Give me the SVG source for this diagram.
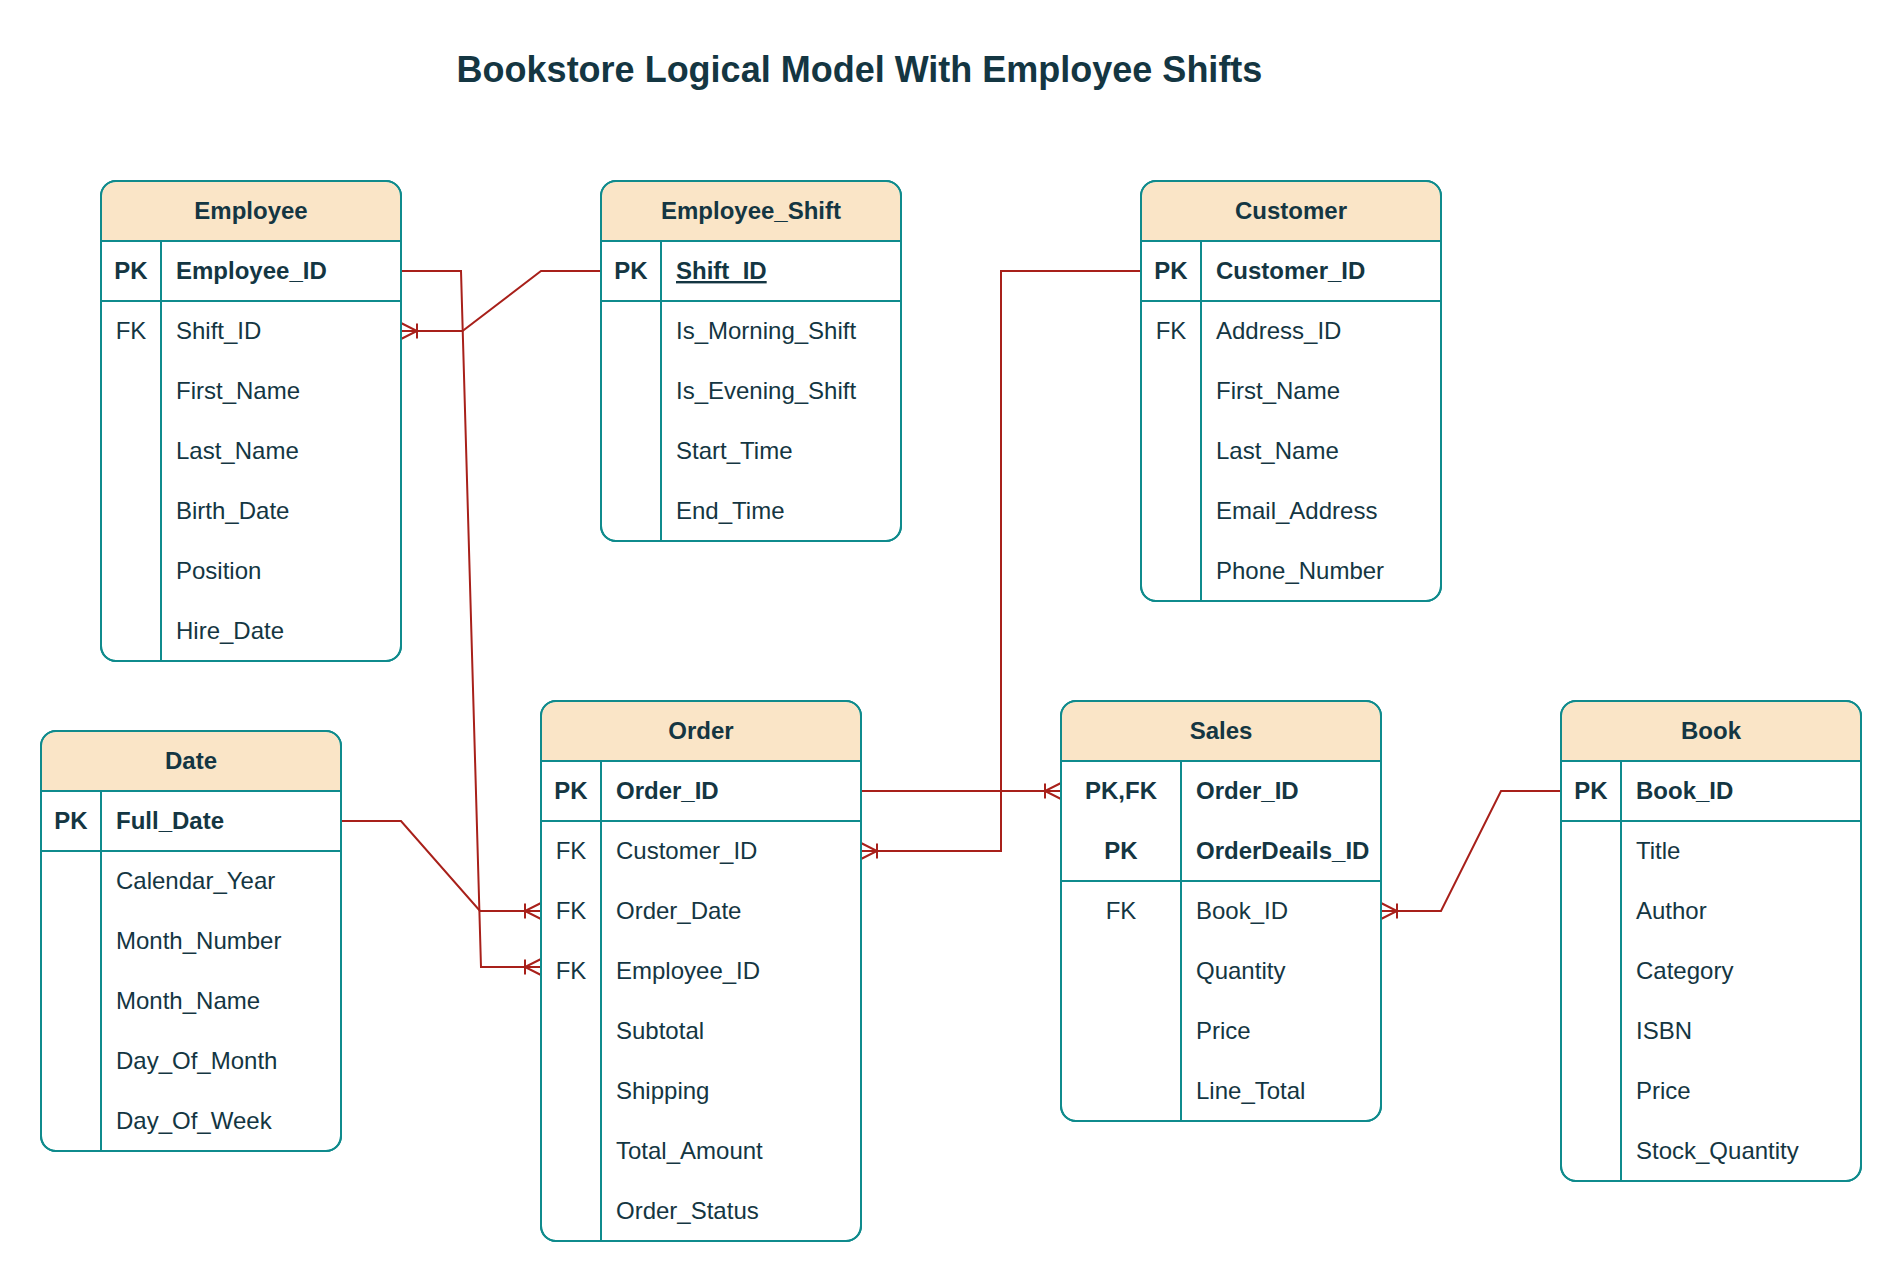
<svg xmlns="http://www.w3.org/2000/svg" width="1902" height="1282" viewBox="0 0 1902 1282">
<style>
text{font-family:"Liberation Sans",Arial,sans-serif;fill:#143642;font-size:24px}
.title{font-size:36px;font-weight:bold;text-anchor:middle}
.hd{font-weight:bold;text-anchor:middle}
.k{text-anchor:middle}
.b{font-weight:bold}
.u{text-decoration:underline}
.box{fill:#fff;stroke:#0F8B8D;stroke-width:2}
.hf{fill:#FAE5C7;stroke:none}
.ln{stroke:#0F8B8D;stroke-width:2;fill:none}
.edge{fill:none;stroke:#A8201A;stroke-width:2;marker-end:url(#crow)}
</style>
<defs>
<marker id="crow" markerUnits="userSpaceOnUse" markerWidth="20" markerHeight="20" viewBox="-18 -10 20 20" refX="0" refY="0" orient="auto" overflow="visible">
<path d="M0,-8 L-16,0 L0,8 M-16,-7.5 V7.5" fill="none" stroke="#A8201A" stroke-width="2"/>
</marker>
</defs>
<rect width="1902" height="1282" fill="#fff"/>
<text class="title" x="859.5" y="82">Bookstore Logical Model With Employee Shifts</text>

<g id="connectors">
<path class="edge" d="M401,271 H461 L481,967 H541"/>
<path class="edge" d="M601,271 H541 L462.5,331 H401"/>
<path class="edge" d="M1141,271 H1001 V851 H861"/>
<path class="edge" d="M861,791 H1061"/>
<path class="edge" d="M1561,791 H1501 L1441,911 H1381"/>
<path class="edge" d="M341,821 H401 L480,911 H541"/>
</g>

<g id="employee">
<rect class="box" x="101" y="181" width="300" height="480" rx="15"/>
<path class="hf" d="M102,241 V196 A14,14 0 0 1 116,182 H386 A14,14 0 0 1 400,196 V241 Z"/>
<rect class="box" x="101" y="181" width="300" height="480" rx="15" style="fill:none"/>
<path class="ln" d="M101,241 H401 M101,301 H401 M161,241 V661"/>
<text class="hd" x="251" y="218.5">Employee</text>
<text class="k b" x="131" y="279">PK</text><text class="b" x="176" y="279">Employee_ID</text>
<text class="k" x="131" y="339">FK</text><text x="176" y="339">Shift_ID</text>
<text x="176" y="399">First_Name</text>
<text x="176" y="459">Last_Name</text>
<text x="176" y="519">Birth_Date</text>
<text x="176" y="579">Position</text>
<text x="176" y="639">Hire_Date</text>
</g>

<g id="employee_shift">
<rect class="box" x="601" y="181" width="300" height="360" rx="15"/>
<path class="hf" d="M602,241 V196 A14,14 0 0 1 616,182 H886 A14,14 0 0 1 900,196 V241 Z"/>
<rect class="box" x="601" y="181" width="300" height="360" rx="15" style="fill:none"/>
<path class="ln" d="M601,241 H901 M601,301 H901 M661,241 V541"/>
<text class="hd" x="751" y="218.5">Employee_Shift</text>
<text class="k b" x="631" y="279">PK</text><text class="b u" x="676" y="279">Shift_ID</text>
<text x="676" y="339">Is_Morning_Shift</text>
<text x="676" y="399">Is_Evening_Shift</text>
<text x="676" y="459">Start_Time</text>
<text x="676" y="519">End_Time</text>
</g>

<g id="customer">
<rect class="box" x="1141" y="181" width="300" height="420" rx="15"/>
<path class="hf" d="M1142,241 V196 A14,14 0 0 1 1156,182 H1426 A14,14 0 0 1 1440,196 V241 Z"/>
<rect class="box" x="1141" y="181" width="300" height="420" rx="15" style="fill:none"/>
<path class="ln" d="M1141,241 H1441 M1141,301 H1441 M1201,241 V601"/>
<text class="hd" x="1291" y="218.5">Customer</text>
<text class="k b" x="1171" y="279">PK</text><text class="b" x="1216" y="279">Customer_ID</text>
<text class="k" x="1171" y="339">FK</text><text x="1216" y="339">Address_ID</text>
<text x="1216" y="399">First_Name</text>
<text x="1216" y="459">Last_Name</text>
<text x="1216" y="519">Email_Address</text>
<text x="1216" y="579">Phone_Number</text>
</g>

<g id="date">
<rect class="box" x="41" y="731" width="300" height="420" rx="15"/>
<path class="hf" d="M42,791 V746 A14,14 0 0 1 56,732 H326 A14,14 0 0 1 340,746 V791 Z"/>
<rect class="box" x="41" y="731" width="300" height="420" rx="15" style="fill:none"/>
<path class="ln" d="M41,791 H341 M41,851 H341 M101,791 V1151"/>
<text class="hd" x="191" y="768.5">Date</text>
<text class="k b" x="71" y="829">PK</text><text class="b" x="116" y="829">Full_Date</text>
<text x="116" y="889">Calendar_Year</text>
<text x="116" y="949">Month_Number</text>
<text x="116" y="1009">Month_Name</text>
<text x="116" y="1069">Day_Of_Month</text>
<text x="116" y="1129">Day_Of_Week</text>
</g>

<g id="order">
<rect class="box" x="541" y="701" width="320" height="540" rx="15"/>
<path class="hf" d="M542,761 V716 A14,14 0 0 1 556,702 H846 A14,14 0 0 1 860,716 V761 Z"/>
<rect class="box" x="541" y="701" width="320" height="540" rx="15" style="fill:none"/>
<path class="ln" d="M541,761 H861 M541,821 H861 M601,761 V1241"/>
<text class="hd" x="701" y="738.5">Order</text>
<text class="k b" x="571" y="799">PK</text><text class="b" x="616" y="799">Order_ID</text>
<text class="k" x="571" y="859">FK</text><text x="616" y="859">Customer_ID</text>
<text class="k" x="571" y="919">FK</text><text x="616" y="919">Order_Date</text>
<text class="k" x="571" y="979">FK</text><text x="616" y="979">Employee_ID</text>
<text x="616" y="1039">Subtotal</text>
<text x="616" y="1099">Shipping</text>
<text x="616" y="1159">Total_Amount</text>
<text x="616" y="1219">Order_Status</text>
</g>

<g id="sales">
<rect class="box" x="1061" y="701" width="320" height="420" rx="15"/>
<path class="hf" d="M1062,761 V716 A14,14 0 0 1 1076,702 H1366 A14,14 0 0 1 1380,716 V761 Z"/>
<rect class="box" x="1061" y="701" width="320" height="420" rx="15" style="fill:none"/>
<path class="ln" d="M1061,761 H1381 M1061,881 H1381 M1181,761 V1121"/>
<text class="hd" x="1221" y="738.5">Sales</text>
<text class="k b" x="1121" y="799">PK,FK</text><text class="b" x="1196" y="799">Order_ID</text>
<text class="k b" x="1121" y="859">PK</text><text class="b" x="1196" y="859">OrderDeails_ID</text>
<text class="k" x="1121" y="919">FK</text><text x="1196" y="919">Book_ID</text>
<text x="1196" y="979">Quantity</text>
<text x="1196" y="1039">Price</text>
<text x="1196" y="1099">Line_Total</text>
</g>

<g id="book">
<rect class="box" x="1561" y="701" width="300" height="480" rx="15"/>
<path class="hf" d="M1562,761 V716 A14,14 0 0 1 1576,702 H1846 A14,14 0 0 1 1860,716 V761 Z"/>
<rect class="box" x="1561" y="701" width="300" height="480" rx="15" style="fill:none"/>
<path class="ln" d="M1561,761 H1861 M1561,821 H1861 M1621,761 V1181"/>
<text class="hd" x="1711" y="738.5">Book</text>
<text class="k b" x="1591" y="799">PK</text><text class="b" x="1636" y="799">Book_ID</text>
<text x="1636" y="859">Title</text>
<text x="1636" y="919">Author</text>
<text x="1636" y="979">Category</text>
<text x="1636" y="1039">ISBN</text>
<text x="1636" y="1099">Price</text>
<text x="1636" y="1159">Stock_Quantity</text>
</g>
</svg>
